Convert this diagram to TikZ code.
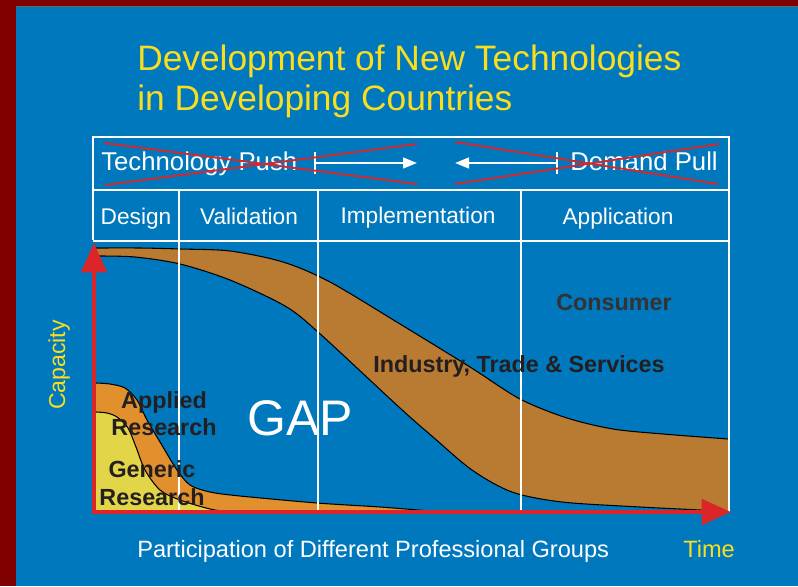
\documentclass[tikz,border=0pt]{standalone}
\usepackage{fontspec}
\setmainfont{Liberation Sans}
\usetikzlibrary{arrows.meta}
\definecolor{frame}{RGB}{128,0,0}
\definecolor{bgblue}{RGB}{0,120,189}
\definecolor{titleyellow}{RGB}{250,222,30}
\definecolor{axisred}{RGB}{218,37,41}
\definecolor{bandbrown}{RGB}{185,122,50}
\definecolor{appliedorange}{RGB}{226,144,46}
\definecolor{genericyellow}{RGB}{226,213,72}
\definecolor{labeldark}{RGB}{35,31,32}
\definecolor{consumergray}{RGB}{51,51,51}
\begin{document}
\begin{tikzpicture}[x=0.75pt,y=-0.75pt,
  titletext/.style={text=titleyellow,inner sep=0pt,anchor=base west,font=\fontsize{26.5}{31}\selectfont},
  headtext/.style={text=white,inner sep=0pt,font=\fontsize{19.3}{23}\selectfont},
  phasetext/.style={text=white,inner sep=0pt,anchor=base,font=\fontsize{17}{20}\selectfont},
  grouptext/.style={text=labeldark,inner sep=0pt,anchor=base,font=\bfseries\fontsize{17.5}{21}\selectfont},
  tableline/.style={white,line width=2.2pt},
  crossline/.style={axisred,line width=1.4pt},
  pusharrow/.style={white,line width=1.8pt,-{Triangle[length=10.5pt,width=8pt]}},
  ticksty/.style={white,line width=1.2pt},
  axis/.style={axisred,line width=3pt,-{Triangle[length=22pt,width=19pt]}},
  curve/.style={black,line width=0.8pt},
]
\useasboundingbox (0,0) rectangle (798,586);
\fill[frame] (0,0) rectangle (798,586);
\fill[bgblue] (16,6) rectangle (798,586);
\draw[black!60,line width=0.6pt] (16,6) -- (798,6);

% title
\node[titletext] (t1) at (137,70) {Development of New Technologies};
\node[titletext] (t2) at (137,110) {in Developing Countries};

% industry band
\fill[bandbrown] plot[smooth,tension=0.5] coordinates {(96,248) (140,248) (180,249) (230,251) (283,262) (330,282) (400,324) (470,367) (520,399) (567,418) (613,429) (663,434) (728,439)}
  -- (728,512)
  -- plot[smooth,tension=0.5] coordinates {(700,510) (640,507) (562,502) (512,492) (472,470) (433,437) (400,408) (318,332) (285,306) (230,280) (180,264) (135,257) (96,256)} -- cycle;
\draw[curve] plot[smooth,tension=0.5] coordinates {(96,248) (140,248) (180,249) (230,251) (283,262) (330,282) (400,324) (470,367) (520,399) (567,418) (613,429) (663,434) (728,439)};
\draw[curve] plot[smooth,tension=0.5] coordinates {(728,512) (700,510) (640,507) (562,502) (512,492) (472,470) (433,437) (400,408) (318,332) (285,306) (230,280) (180,264) (135,257) (96,256)};

% applied research
\fill[appliedorange] plot[smooth,tension=0.5] coordinates {(96,383) (110,384) (125,388) (137,400) (147,420) (163,447) (177,470) (190,485) (210,492) (240,496) (317,503) (380,507) (430,511)} -- (430,512) -- (96,512) -- cycle;
\draw[curve] plot[smooth,tension=0.5] coordinates {(96,383) (110,384) (125,388) (137,400) (147,420) (163,447) (177,470) (190,485) (210,492) (240,496) (317,503) (380,507) (430,511)};

% generic research
\fill[genericyellow] plot[smooth,tension=0.5] coordinates {(96,412) (107,413) (117,417) (128,428) (136,447) (145,470) (160,490) (180,500) (210,509) (230,512)} -- (96,512) -- cycle;
\draw[curve] plot[smooth,tension=0.5] coordinates {(96,412) (107,413) (117,417) (128,428) (136,447) (145,470) (160,490) (180,500) (210,509) (230,512)};

% table
\draw[tableline] (93,240) -- (93,137) -- (729,137) -- (729,512);
\draw[tableline] (93,190) -- (729,190);
\draw[tableline] (93,241) -- (729,241);
\draw[tableline] (179,190) -- (179,511);
\draw[tableline] (318,190) -- (318,511);
\draw[tableline] (521,190) -- (521,511);

% header row
\node[headtext,anchor=base west] (push) at (101,170) {Technology Push};
\node[headtext,anchor=base east] (pull) at (718,170) {Demand Pull};
\coordinate (pushtick) at (315,163);
\coordinate (pushend) at (417,163);
\coordinate (pulltick) at (557,163);
\coordinate (pullend) at (455,163);
\draw[ticksty] ([yshift=-8]pushtick) -- ([yshift=8]pushtick);
\draw[ticksty] ([yshift=-8]pulltick) -- ([yshift=8]pulltick);
\draw[pusharrow] (pushtick) -- (pushend);
\draw[pusharrow] (pulltick) -- (pullend);
\draw[crossline] (104,143) -- (417,184);
\draw[crossline] (105,185) -- (417,144);
\draw[crossline] (455,142) -- (718,184);
\draw[crossline] (455,184) -- (719,144);

% phases
\node[phasetext] (design) at (136,224) {Design};
\node[phasetext] (valid) at (249,224) {Validation};
\node[phasetext] (impl) at (418,223) {Implementation};
\node[phasetext] (appl) at (618,224) {Application};

% axes
\coordinate (origin) at (94,512);
\coordinate (ytip) at (94,243);
\coordinate (xtip) at (731,512);
\draw[axis] ([yshift=1.5]origin) -- (ytip);
\draw[axis] ([xshift=-1.5]origin) -- (xtip);

% labels
\node[grouptext,text=consumergray] (cons) at (614,310) {Consumer};
\node[grouptext] (app1) at (164,408) {Applied};
\node[grouptext] (app2) at (164,435) {Research};
\node[grouptext] (gen1) at (152,477) {Generic};
\node[grouptext] (gen2) at (152,505) {Research};
\node[grouptext] (ind) at (519,372) {Industry, Trade \& Services};
\node[text=white,inner sep=0pt,anchor=base,font=\fontsize{37.5}{44}\selectfont] (gap) at (300,435) {GAP};
\node[text=titleyellow,inner sep=0pt,anchor=base,rotate=90,font=\fontsize{17.3}{20}\selectfont] (cap) at (65,365) {Capacity};
\node[text=white,inner sep=0pt,anchor=base west,font=\fontsize{17.7}{21}\selectfont] (part) at (137,557) {Participation of Different Professional Groups};
\node[text=titleyellow,inner sep=0pt,anchor=base west,font=\fontsize{17.7}{21}\selectfont] (time) at (683,557) {Time};
\end{tikzpicture}
\end{document}
